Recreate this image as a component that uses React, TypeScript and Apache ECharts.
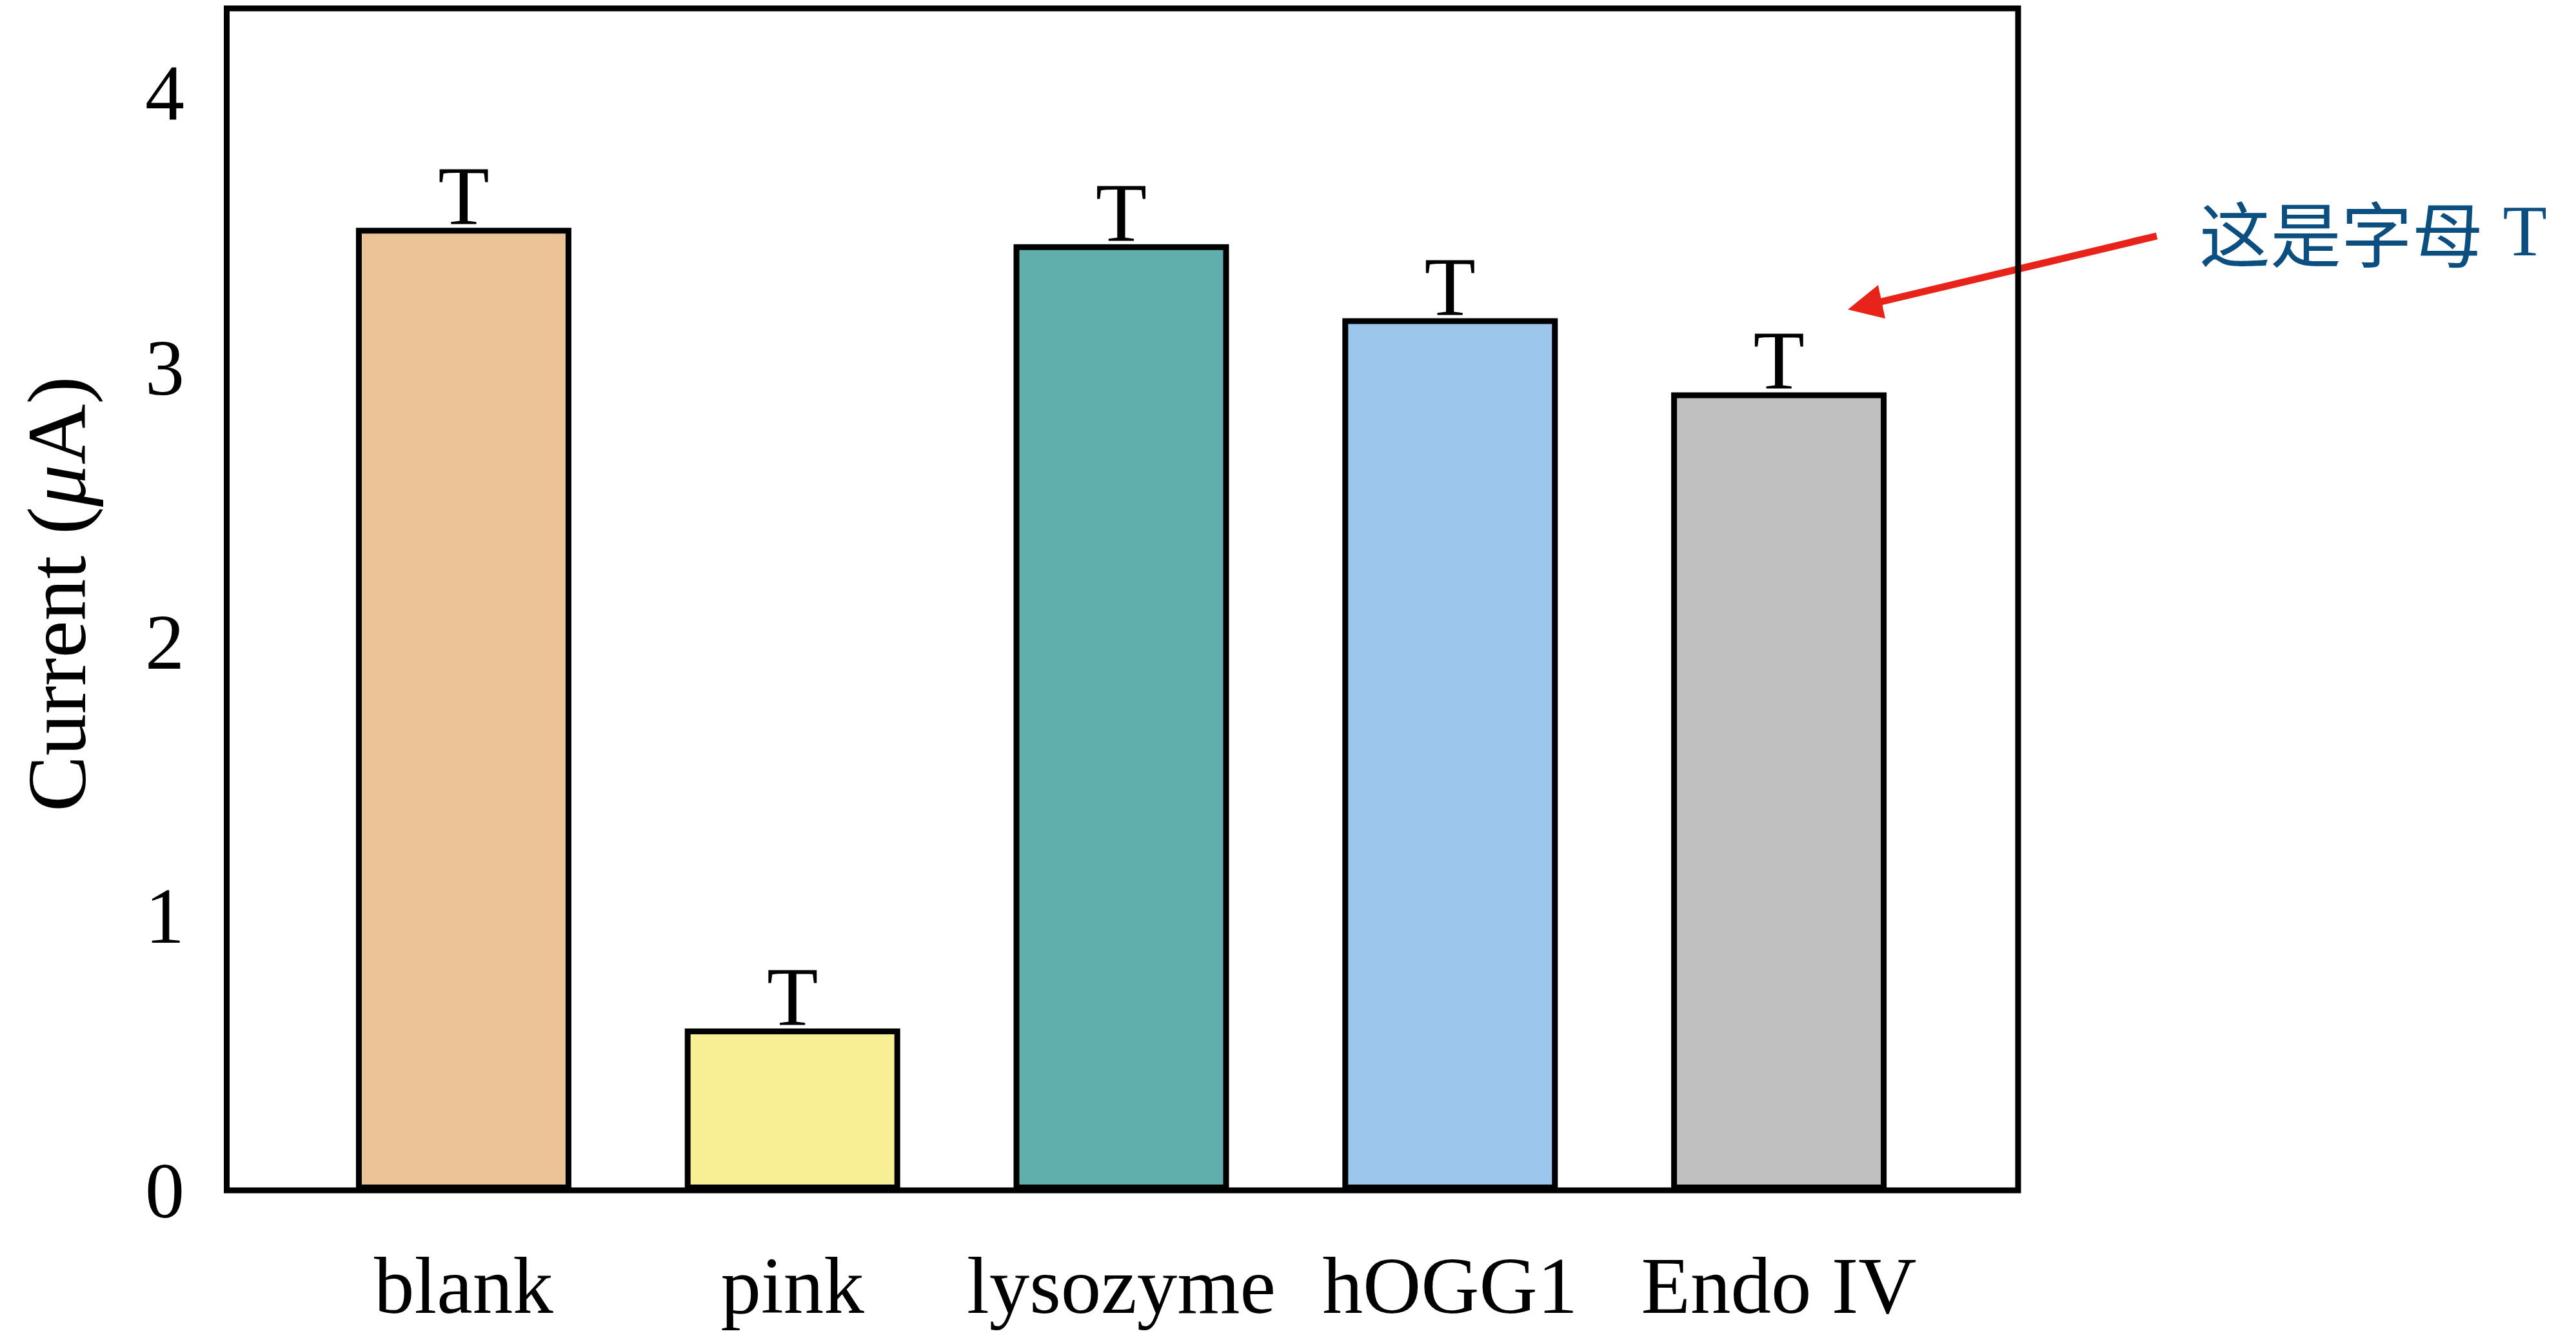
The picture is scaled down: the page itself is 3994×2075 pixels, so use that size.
import React, { useEffect, useRef } from 'react';
import * as echarts from 'echarts';

const categories = ['blank', 'pink', 'lysozyme', 'hOGG1', 'Endo IV'];
const currents = [3.51, 0.59, 3.45, 3.18, 2.91];
const barColors = ['#EBC396', '#F8EF95', '#61AFAD', '#9DC6EC', '#C0C0C0'];
const capLabel = 'T';
const yMin = 0;
const yMax = 4.31;
const yInterval = 1;
const yTitle = 'Current ({i|μ}A)';
const noteText = '{c|这是字母} {t|T}';

const SERIF = '"Liberation Serif", "Times New Roman", serif';

export default function App() {
  const ref = useRef<HTMLDivElement>(null);
  useEffect(() => {
    if (!ref.current) return;
    const chart = echarts.init(ref.current, undefined, { renderer: 'svg' });
    chart.setOption({
      animation: false,
      backgroundColor: '#ffffff',
      grid: { left: 464, right: 981, top: 13, bottom: 229, containLabel: false },
      xAxis: {
        type: 'category',
        data: categories,
        boundaryGap: true,
        axisLine: { show: false },
        axisTick: { show: false },
        splitLine: { show: false },
        axisLabel: {
          interval: 0,
          hideOverlap: false,
          fontSize: 125,
          fontFamily: SERIF,
          color: '#000',
          margin: 85,
        },
      },
      yAxis: {
        type: 'value',
        min: yMin,
        max: yMax,
        interval: yInterval,
        axisLine: { show: false },
        axisTick: { show: false },
        splitLine: { show: false },
        axisLabel: {
          fontSize: 122,
          fontFamily: SERIF,
          color: '#000',
          margin: 178,
          showMaxLabel: false,
          formatter: (v: number) => (Number.isInteger(v) ? String(v) : ''),
        },
      },
      series: [
        {
          type: 'bar',
          barWidth: 334,
          data: currents.map((v, i) => ({ value: v, itemStyle: { color: barColors[i] } })),
          itemStyle: { borderColor: '#000', borderWidth: 9 },
          label: {
            show: true,
            position: 'top',
            distance: -15,
            formatter: () => capLabel,
            fontSize: 130,
            fontFamily: SERIF,
            color: '#000',
          },
        },
      ],
      graphic: [
        {
          type: 'rect',
          z: 10,
          shape: { x: 351.5, y: 13, width: 2777.5, height: 1833 },
          style: { fill: 'none', stroke: '#000', lineWidth: 9 },
        },
        {
          type: 'text',
          x: 88,
          y: 921,
          rotation: Math.PI / 2,
          style: {
            text: yTitle,
            fontSize: 130,
            fontFamily: SERIF,
            fill: '#000',
            align: 'center',
            verticalAlign: 'middle',
            rich: {
              i: { fontSize: 130, fontFamily: SERIF, fontStyle: 'italic', fill: '#000' },
            },
          },
        },
        {
          type: 'line',
          shape: { x1: 3344, y1: 366, x2: 2912, y2: 469 },
          style: { stroke: '#E8231A', lineWidth: 11 },
        },
        {
          type: 'polygon',
          shape: { points: [[2865, 480], [2912, 442], [2923, 494]] },
          style: { fill: '#E8231A' },
        },
        {
          type: 'text',
          x: 3410,
          y: 358,
          style: {
            text: noteText,
            fontSize: 110,
            fill: '#0B4F80',
            align: 'left',
            verticalAlign: 'middle',
            rich: {
              c: { fontSize: 110, fontFamily: '"Noto Sans CJK SC"', fill: '#0B4F80' },
              t: { fontSize: 112, fontFamily: SERIF, fill: '#0B4F80' },
            },
          },
        },
      ],
    });
    return () => chart.dispose();
  }, []);
  return (
    <div
      ref={ref}
      style={{ position: 'absolute', left: 0, top: 0, width: 3994, height: 2075 }}
    />
  );
}
